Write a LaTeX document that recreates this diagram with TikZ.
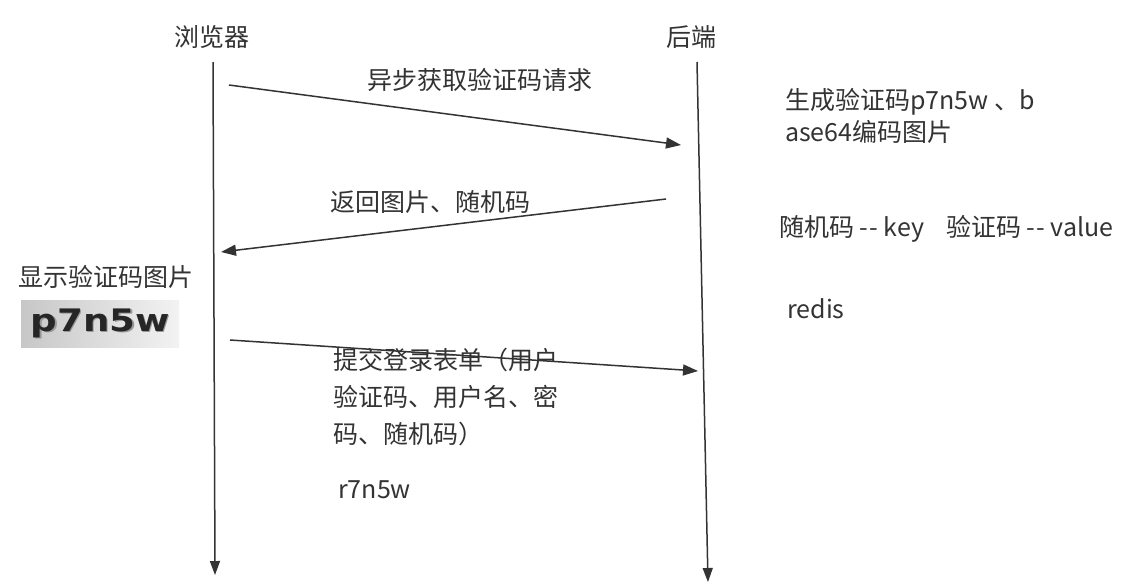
\documentclass[tikz,border=0pt]{standalone}
\usepackage{fontspec}
\setmainfont{Noto Sans CJK SC}[Ligatures=TeXOff]
\newfontfamily\capfont{DejaVu Sans}
\usetikzlibrary{arrows.meta}
\definecolor{ink}{HTML}{333333}
\begin{document}
\begin{tikzpicture}[x=1pt,y=-1pt,
  lbl/.style={text=ink, font=\fontsize{25}{30}\selectfont, inner sep=0pt, anchor=west},
  mlbl/.style={text=ink, inner sep=0pt, anchor=north west, align=left},
  life/.style={draw=ink, line width=1.5pt, -{Triangle[length=14pt,width=10pt]}},
  msg/.style={draw=ink, line width=1.5pt, -{Triangle[length=15pt,width=11pt]}},
  captxt/.style={inner sep=0pt, font=\capfont\bfseries\fontsize{31}{31}\selectfont, xscale=1.2}]
\useasboundingbox (0,0) rectangle (1129,584);
\fill[white] (0,0) rectangle (1129,584);
% actors
\node[lbl, anchor=center] (browser) at (212,37) {浏览器};
\node[lbl, anchor=center] (backend) at (691,37) {后端};
% lifelines
\coordinate (bTop) at (213,62);
\coordinate (bBot) at (215,575);
\coordinate (sTop) at (697,62);
\coordinate (sBot) at (708,582);
\draw[life] (bTop) -- (bBot);
\draw[life] (sTop) -- (sBot);
% message 1
\coordinate (m1a) at (229,85);
\coordinate (m1b) at (681,145);
\draw[msg] (m1a) -- (m1b);
\node[lbl] (m1lbl) at (367,80) {异步获取验证码请求};
% message 2
\coordinate (m2a) at (666,199);
\coordinate (m2b) at (221,252);
\draw[msg] (m2a) -- (m2b);
\node[lbl] (m2lbl) at (330,202) {返回图片、随机码};
% browser notes
\node[lbl] (show) at (18,277) {显示验证码图片};
\node[inner sep=0pt, minimum width=158pt, minimum height=47pt, left color=black!22, right color=black!5, anchor=north west] (captcha) at (21,300) {};
\node[captxt, text=black!40] (capblur) at ([shift={(1.5,1)}]captcha.center) {p7n5w};
\node[captxt, text=black!85] (captext) at (captcha.center) {p7n5w};
% message 3
\coordinate (m3a) at (230,340);
\coordinate (m3b) at (698,371);
\draw[msg] (m3a) -- (m3b);
\node[mlbl, font=\fontsize{25}{37}\selectfont] (m3lbl) at (333,347.5) {提交登录表单（用户\\验证码、用户名、密\\码、随机码）};
\node[lbl] (r7) at (338,490) {r7n5w};
% backend notes
\node[mlbl, font=\fontsize{25}{32}\selectfont] (gen) at (785,88.5) {生成验证码p7n5w\ 、b\\ase64编码图片};
\node[lbl] (kv) at (779,229) {随机码\ -\kern1pt-\ key\hspace{22pt}验证码\ -\kern1pt-\ value};
\node[lbl] (redis) at (787,309) {redis};
\end{tikzpicture}
\end{document}
